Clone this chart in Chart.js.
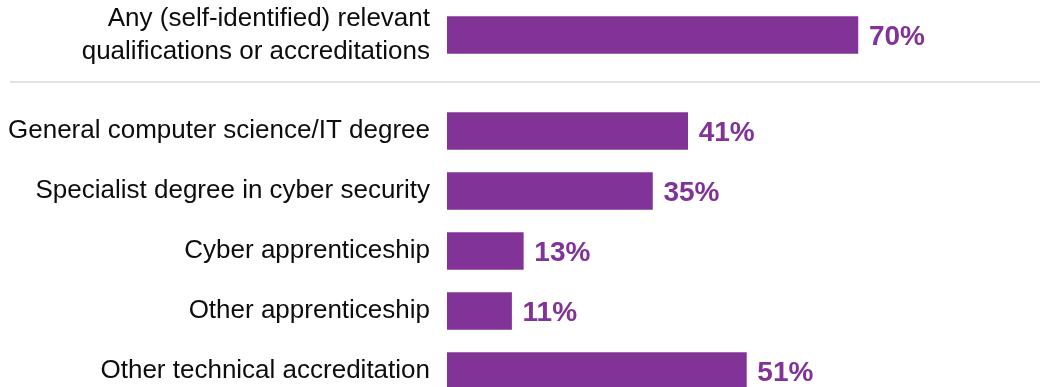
<!DOCTYPE html>
<html lang="en">
<head>
    <meta charset="UTF-8">
    <title>Qualifications</title>
    <script src="https://cdn.jsdelivr.net/npm/chart.js"></script>
    <style>
        html, body { margin: 0; padding: 0; background: #fff; }
        body { width: 1040px; height: 387px; overflow: hidden; }
        canvas { display: block; }
    </style>
</head>
<body>
    <canvas id="topChart" width="1040" height="84"></canvas>
    <canvas id="bottomChart" width="1040" height="317"></canvas>

    <script>
        // headline row
        var anyLabels = [['Any (self-identified) relevant', 'qualifications or accreditations']];
        var anyValues = [70];

        // individual qualification types
        var typeLabels = [
            'General computer science/IT degree',
            'Specialist degree in cyber security',
            'Cyber apprenticeship',
            'Other apprenticeship',
            'Other technical accreditation'
        ];
        var typeValues = [41, 35, 13, 11, 51];

        var purple = '#823398';
        var labelFont = { family: '"Liberation Sans", Arial, sans-serif', size: 26, lineHeight: 1.26 };

        // percentage text just past the end of each bar
        var valueLabels = {
            id: 'valueLabels',
            afterDatasetsDraw: function (chart) {
                var ctx = chart.ctx;
                var meta = chart.getDatasetMeta(0);
                var values = chart.data.datasets[0].data;
                ctx.save();
                ctx.font = 'bold 28px "Liberation Sans", Arial, sans-serif';
                ctx.fillStyle = purple;
                ctx.textAlign = 'left';
                ctx.textBaseline = 'middle';
                meta.data.forEach(function (bar, i) {
                    ctx.fillText(values[i] + '%', bar.x + 11, bar.y + 2);
                });
                ctx.restore();
            }
        };

        // thin rule under the headline row
        var divider = {
            id: 'divider',
            afterDraw: function (chart) {
                var ctx = chart.ctx;
                ctx.save();
                ctx.strokeStyle = '#e2e2e2';
                ctx.lineWidth = 2;
                ctx.beginPath();
                ctx.moveTo(10, 82);
                ctx.lineTo(chart.width, 82);
                ctx.stroke();
                ctx.restore();
            }
        };

        function makeChart(id, labels, values, padTop, padBottom, extraPlugins) {
            return new Chart(document.getElementById(id), {
                type: 'bar',
                data: {
                    labels: labels,
                    datasets: [{
                        data: values,
                        backgroundColor: purple,
                        borderWidth: 0,
                        barThickness: 37
                    }]
                },
                options: {
                    indexAxis: 'y',
                    responsive: false,
                    animation: false,
                    layout: { padding: { top: padTop, bottom: padBottom, left: 0, right: 6 } },
                    plugins: {
                        legend: { display: false },
                        tooltip: { enabled: false }
                    },
                    scales: {
                        x: { display: false, min: 0, max: 100 },
                        y: {
                            grid: { display: false, drawTicks: false },
                            border: { display: false },
                            ticks: { color: '#0d0d0d', font: labelFont, padding: 17 },
                            afterFit: function (scale) {
                                // fixed label column; labels may overflow the plot edges
                                scale.width = 447;
                                scale.paddingTop = 0;
                                scale.paddingBottom = 0;
                            }
                        }
                    }
                },
                plugins: [valueLabels].concat(extraPlugins)
            });
        }

        makeChart('topChart', anyLabels, anyValues, 5, 19, [divider]);
        makeChart('bottomChart', typeLabels, typeValues, 17, 0, []);
    </script>
</body>
</html>
